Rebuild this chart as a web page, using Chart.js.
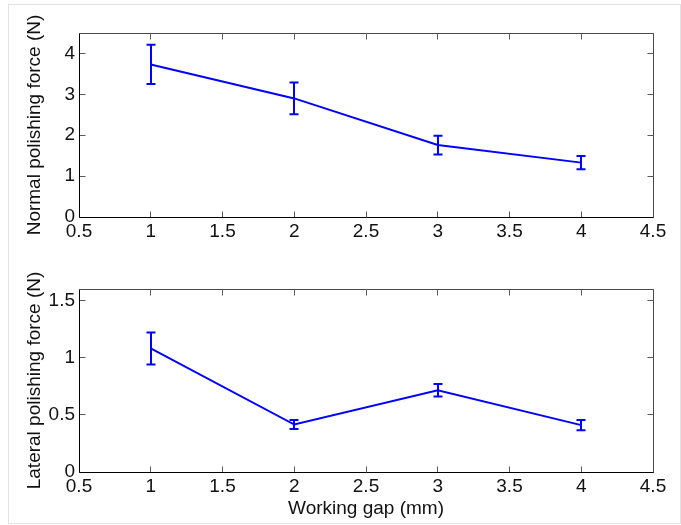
<!DOCTYPE html>
<html>
<head>
<meta charset="utf-8">
<script src="https://cdn.jsdelivr.net/npm/chart.js@4.4.0/dist/chart.umd.min.js"></script>
<style>
  html, body { margin: 0; padding: 0; background: #fff; }
  #wrap { position: relative; width: 681px; height: 525px; overflow: hidden; }
  #frame { position: absolute; left: 8px; top: 4px; width: 673px; height: 520px;
           border: 1px solid #e2e2e2; box-sizing: border-box; }
  canvas { position: absolute; left: 0; }
</style>
</head>
<body>
<div id="wrap">
  <div id="frame"></div>
  <canvas id="normalChart" width="681" height="262" style="top:0"></canvas>
  <canvas id="lateralChart" width="681" height="263" style="top:262px"></canvas>
</div>
<script>
// working gap (mm)
const gap = [1, 2, 3, 4];

// normal polishing force (N) and its error bar half-length
const normalForce = [3.73, 2.90, 1.76, 1.33];
const normalErr = [0.48, 0.39, 0.23, 0.16];

// lateral polishing force (N) and its error bar half-length
const lateralForce = [1.08, 0.415, 0.715, 0.41];
const lateralErr = [0.14, 0.04, 0.055, 0.045];

// tick labels
const xTicks = [0.5, 1, 1.5, 2, 2.5, 3, 3.5, 4, 4.5];
const xTickLabels = ["0.5", "1", "1.5", "2", "2.5", "3", "3.5", "4", "4.5"];
const normalTicks = [0, 1, 2, 3, 4];
const normalTickLabels = ["0", "1", "2", "3", "4"];
const lateralTicks = [0, 0.5, 1, 1.5];
const lateralTickLabels = ["0", "0.5", "1", "1.5"];

const FONT = "'Liberation Sans', Arial, sans-serif";
const BLUE = "#0000ff";

// error bars + matlab style box with inward ticks
const matlabAxes = {
  id: "matlabAxes",
  afterDatasetsDraw(chart, args, opts) {
    const { ctx, chartArea: a, scales: { x, y } } = chart;
    const pts = chart.data.datasets[0].data;

    ctx.save();
    ctx.strokeStyle = BLUE;
    ctx.lineWidth = 2;
    pts.forEach((p, i) => {
      const px = Math.round(x.getPixelForValue(p.x));
      const hi = y.getPixelForValue(p.y + opts.err[i]);
      const lo = y.getPixelForValue(p.y - opts.err[i]);
      ctx.beginPath();
      ctx.moveTo(px, hi); ctx.lineTo(px, lo);
      ctx.moveTo(px - 4.5, hi); ctx.lineTo(px + 4.5, hi);
      ctx.moveTo(px - 4.5, lo); ctx.lineTo(px + 4.5, lo);
      ctx.stroke();
    });

    const L = Math.floor(a.left) + 0.5, R = Math.floor(a.right) + 0.5;
    const T = Math.floor(a.top) + 0.5, B = Math.floor(a.bottom) + 0.5;
    const tl = 6;
    ctx.lineWidth = 1;
    ctx.strokeStyle = "#5a5a5a";
    ctx.beginPath();
    x.ticks.forEach(t => {
      const px = Math.floor(x.getPixelForValue(t.value)) + 0.5;
      ctx.moveTo(px, B); ctx.lineTo(px, B - tl);
      ctx.moveTo(px, T); ctx.lineTo(px, T + tl);
    });
    y.ticks.forEach(t => {
      const py = Math.floor(y.getPixelForValue(t.value)) + 0.5;
      ctx.moveTo(L, py); ctx.lineTo(L + tl, py);
      ctx.moveTo(R, py); ctx.lineTo(R - tl, py);
    });
    ctx.stroke();

    ctx.strokeStyle = "#4a4a4a";
    ctx.beginPath();
    ctx.moveTo(L, T); ctx.lineTo(R, T); ctx.lineTo(R, B);
    ctx.stroke();
    ctx.strokeStyle = "#000";
    ctx.beginPath();
    ctx.moveTo(L, T); ctx.lineTo(L, B); ctx.lineTo(R, B);
    ctx.stroke();
    ctx.restore();
  }
};

function makeChart(id, values, err, yTicks, yLabels, yMax, yTitle, xTitle, pad, xAxisHeight) {
  const points = gap.map((g, i) => ({ x: g, y: values[i] }));
  return new Chart(document.getElementById(id), {
    type: "line",
    data: {
      datasets: [{
        data: points,
        borderColor: BLUE,
        borderWidth: 2,
        pointRadius: 0,
        tension: 0,
        fill: false
      }]
    },
    options: {
      responsive: false,
      animation: false,
      devicePixelRatio: 1,
      layout: { padding: pad },
      plugins: {
        legend: { display: false },
        tooltip: { enabled: false },
        matlabAxes: { err: err }
      },
      scales: {
        x: {
          type: "linear",
          min: 0.5,
          max: 4.5,
          afterBuildTicks: s => { s.ticks = xTicks.map(v => ({ value: v })); },
          afterFit: s => { s.height = xAxisHeight; },
          grid: { display: false, drawTicks: false },
          border: { display: false },
          ticks: {
            autoSkip: false,
            maxRotation: 0,
            padding: 3,
            color: "#111",
            font: { family: FONT, size: 19 },
            callback: (v, i) => xTickLabels[i]
          },
          title: {
            display: !!xTitle,
            text: xTitle,
            color: "#111",
            font: { family: FONT, size: 19 },
            padding: { top: 0, bottom: 5 }
          }
        },
        y: {
          type: "linear",
          min: 0,
          max: yMax,
          afterBuildTicks: s => { s.ticks = yTicks.map(v => ({ value: v })); },
          afterFit: s => { s.width = 79; },
          grid: { display: false, drawTicks: false },
          border: { display: false },
          ticks: {
            autoSkip: false,
            padding: 4,
            color: "#111",
            font: { family: FONT, size: 19 },
            callback: (v, i) => yLabels[i]
          },
          title: {
            display: true,
            text: yTitle,
            color: "#111",
            font: { family: FONT, size: 19 },
            padding: { top: 23, bottom: 0 }
          }
        }
      }
    },
    plugins: [matlabAxes]
  });
}

makeChart("normalChart", normalForce, normalErr, normalTicks, normalTickLabels, 4.5,
  "Normal polishing force (N)", "", { top: 33, right: 28, left: 0, bottom: 0 }, 45);

makeChart("lateralChart", lateralForce, lateralErr, lateralTicks, lateralTickLabels, 1.6,
  "Lateral polishing force (N)", "Working gap (mm)", { top: 27, right: 28, left: 0, bottom: 0 }, 53);
</script>
</body>
</html>
